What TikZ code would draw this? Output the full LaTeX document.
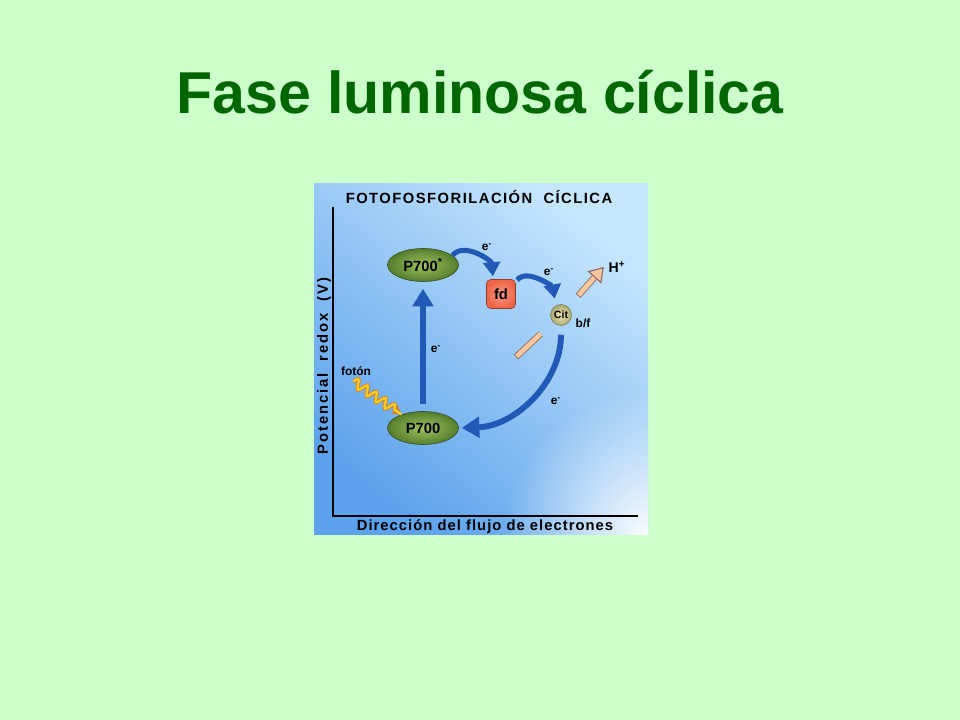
\documentclass[tikz,border=0pt]{standalone}
\usepackage{fontspec}
\setmainfont{Liberation Sans}
\usepackage{tikz}
\usetikzlibrary{arrows.meta,positioning,shadings,fadings,shapes.geometric,decorations.pathmorphing}

\definecolor{slidebg}{RGB}{204,255,204}
\definecolor{titlegreen}{RGB}{0,102,0}
\definecolor{paneldark}{RGB}{92,162,236}
\definecolor{panelmid}{RGB}{158,206,246}
\definecolor{panellight}{RGB}{198,230,253}
\definecolor{eblue}{RGB}{34,88,182}
\definecolor{leafin}{RGB}{160,195,95}
\definecolor{leafout}{RGB}{85,125,45}
\definecolor{fdred}{RGB}{238,100,70}
\definecolor{citfill}{RGB}{215,212,130}
\definecolor{peach}{RGB}{250,200,160}
\definecolor{peachedge}{RGB}{140,105,90}
\definecolor{photon}{RGB}{250,205,40}
\definecolor{photonedge}{RGB}{215,130,20}

\tikzfading[name=glow,inner color=transparent!0,outer color=transparent!100]

\begin{document}
\begin{tikzpicture}[x=0.025cm,y=-0.025cm,>={Triangle[length=12.5pt,width=14.5pt]},
                    main node/.style={ellipse,draw=leafout!60!black,inner color=leafin,outer color=leafout,
                                      minimum width=71*0.025cm,minimum height=33*0.025cm,inner sep=0pt,
                                      font=\bfseries\fontsize{10.5}{12}\selectfont},
                    elabel/.style={font=\bfseries\fontsize{8.5}{9}\selectfont},
                    eflow/.style={->,draw=eblue,line width=3.6pt},
                    small tip/.style={-{Triangle[length=10pt,width=12pt]}},
                    wave/.style={decorate,decoration={snake,amplitude=4.5*0.025cm,segment length=11*0.025cm,post length=8*0.025cm}}]

  % slide and title
  \fill[slidebg] (0,0) rectangle (960,720);
  \node[text=titlegreen,font=\bfseries\fontsize{42}{48}\selectfont] (title) at (480,92) {Fase luminosa cíclica};

  % panel
  \shade[top color=panellight,middle color=panelmid,bottom color=paneldark,shading angle=-40]
       (314,184) rectangle (648,535);
  \begin{scope}
    \clip (314,184) rectangle (648,535);
    \fill[white,path fading=glow] (652,540) circle (150);
  \end{scope}
  \draw[line width=1.6pt] (333,207) -- (333,516) -- (638,516);
  \node[font=\bfseries\fontsize{10.5}{12}\selectfont\addfontfeature{LetterSpace=10}] (ptitle) at (479,197)
       {FOTOFOSFORILACIÓN\ \ CÍCLICA};
  \node[font=\bfseries\fontsize{10.5}{12}\selectfont\addfontfeature{LetterSpace=13},rotate=90] (ylab) at (324,366)
       {Potencial\ \ redox\ \ (V)};
  \node[font=\bfseries\fontsize{10.5}{12}\selectfont\addfontfeature{LetterSpace=7}] (xlab) at (485,527)
       {Dirección del flujo de electrones};

  % carriers
  \node[main node] (p700s) at (423,265) {P700\textsuperscript{*}};
  \node[main node] (p700) at (423,428) {P700};
  \node[rounded corners=3pt,draw=fdred!60!black,inner color=fdred!65!white,outer color=fdred,
        minimum size=29*0.025cm,inner sep=0pt,font=\bfseries\fontsize{10.5}{12}\selectfont] (fd) at (501,294) {fd};
  \node[circle,draw=black!55,inner color=citfill!55!white,outer color=citfill!80!black,
        minimum size=21*0.025cm,inner sep=0pt,font=\bfseries\fontsize{7.5}{8}\selectfont] (cit) at (561,315) {Cit};
  \node[elabel] (bf) at (583,323) {b/f};
  \node[font=\bfseries\fontsize{10}{12}\selectfont] (hplus) at (617,267) {H\textsuperscript{+}};
  \coordinate (hlow) at (516,357);

  % proton path
  \draw[draw=peachedge,line width=4.6pt,shorten >=17*0.025cm] (hlow) -- (cit);
  \draw[draw=peach,line width=3.4pt,shorten >=17*0.025cm,shorten <=0.6pt] (hlow) -- (cit);
  \draw[draw=peachedge,line width=4.6pt,-{Triangle[length=10pt,width=13pt,fill=peach,line width=0.8pt]},
        shorten <=15*0.025cm] (cit) -- (hplus.west);
  \draw[draw=peach,line width=3.4pt,shorten <=15*0.025cm+0.6pt,shorten >=10pt] (cit) -- (hplus.west);

  % electron flow
  \draw[eflow,line width=4pt,shorten <=7*0.025cm,shorten >=7*0.025cm] (p700) -- (p700s);
  \draw[eflow,small tip,shorten >=3*0.025cm] (p700s.18) to[out=50,in=95] (fd.118);
  \draw[eflow,small tip,shorten <=2*0.025cm,shorten >=7*0.025cm] (fd.40) to[out=50,in=100] (cit.118);
  \draw[eflow,line width=4.2pt,shorten <=9*0.025cm,shorten >=3*0.025cm]
       (cit.south) to[out=-90,in=2] (p700.east);

  % photon
  \draw[-{Triangle[length=6pt,width=7pt]},draw=photonedge,line width=2.8pt,wave] (353,381) -- (p700.148);
  \draw[draw=photon,line width=1.6pt,wave] (353,381) -- (p700.148);

  % labels
  \node[elabel] (e1) at (487,247) {e\textsuperscript{-}};
  \node[elabel] (e2) at (549,272) {e\textsuperscript{-}};
  \node[elabel] (e3) at (436,349) {e\textsuperscript{-}};
  \node[elabel] (e4) at (556,401) {e\textsuperscript{-}};
  \node[elabel] (foton) at (356,371) {fotón};
\end{tikzpicture}
\end{document}
